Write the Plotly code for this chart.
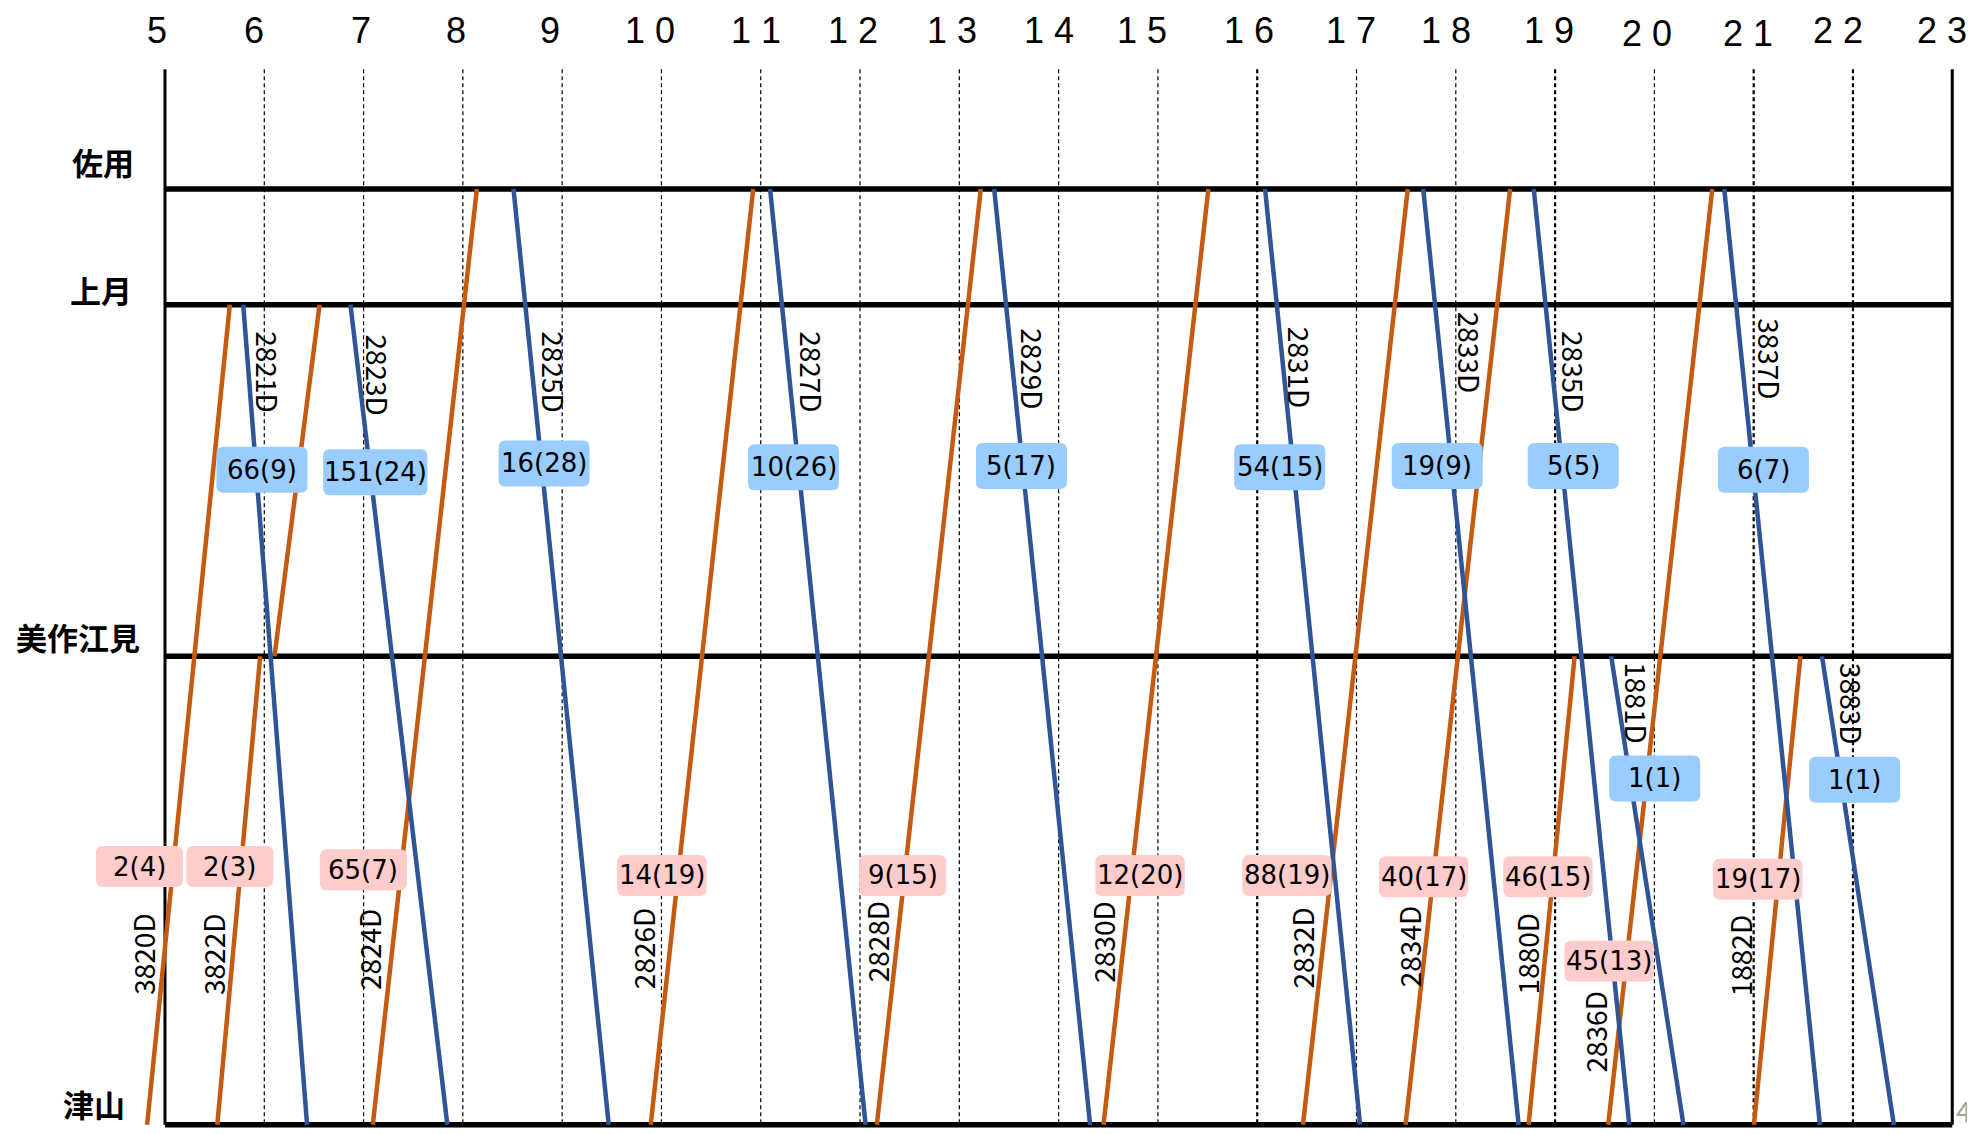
import plotly.graph_objects as go

# ---------------- data ----------------
stations = ["佐用", "上月", "美作江見", "津山"]
station_pos = [0.0, 9.2, 37.1, 74.3]          # relative distance along the line
hours = list(range(5, 24))
hour_text = ["5", "6", "7", "8", "9", "1 0", "1 1", "1 2", "1 3", "1 4", "1 5",
             "1 6", "1 7", "1 8", "1 9", "2 0", "2 1", "2 2", "2 3"]

# up trains (津山 -> 佐用), orange
up_ids = ["3820D", "3822D", "3822D", "2824D", "2826D", "2828D", "2830D",
          "2832D", "2834D", "1880D", "2836D", "1882D"]
up_from = ["津山", "津山", "美作江見", "津山", "津山", "津山", "津山",
           "津山", "津山", "津山", "津山", "津山"]
up_to = ["上月", "美作江見", "上月", "佐用", "佐用", "佐用", "佐用",
         "佐用", "佐用", "美作江見", "佐用", "美作江見"]
up_dep = [4.82, 5.527, 6.103, 7.093, 9.892, 12.169, 14.452, 16.461, 17.494, 18.733, 19.535, 21.003]
up_arr = [5.653, 5.959, 6.557, 8.141, 10.924, 13.216, 15.508, 17.516, 18.547, 19.197, 20.583, 21.471]

# down trains (佐用 -> 津山), blue
dn_ids = ["2821D", "2823D", "2825D", "2827D", "2829D", "2831D", "2833D",
          "2835D", "1881D", "3837D", "3883D"]
dn_from = ["上月", "上月", "佐用", "佐用", "佐用", "佐用", "佐用",
           "佐用", "美作江見", "佐用", "美作江見"]
dn_to = ["津山"] * 11
dn_dep = [5.788, 6.868, 8.510, 11.094, 13.351, 16.079, 17.672, 18.785, 19.565, 20.704, 21.688]
dn_arr = [6.431, 7.844, 9.469, 12.056, 14.317, 17.036, 18.633, 19.747, 20.293, 21.667, 22.412]

# passenger counts per train
up_label_ids = ["3820D", "3822D", "2824D", "2826D", "2828D", "2830D", "2832D",
                "2834D", "1880D", "2836D", "1882D"]
up_counts = ["2(4)", "2(3)", "65(7)", "14(19)", "9(15)", "12(20)", "88(19)",
             "40(17)", "46(15)", "45(13)", "19(17)"]
dn_counts = ["66(9)", "151(24)", "16(28)", "10(26)", "5(17)", "54(15)", "19(9)",
             "5(5)", "1(1)", "6(7)", "1(1)"]

# ---------------- layout helpers (label placement) ----------------
hour_label_x = [4.924, 5.901, 6.979, 7.93, 8.88, 9.885, 10.95, 11.93, 12.93, 13.9,
                14.84, 15.92, 16.94, 17.9, 18.94, 19.93, 20.94, 21.85, 22.9]
hour_label_y = [-12.6] * 15 + [-12.3, -12.3, -12.6, -12.6]
station_label_x = [4.378, 4.353, 4.125, 4.29]
station_label_y = [-2.2, 8.0, 35.5, 72.6]

up_id_x = [4.775, 5.486, 7.048, 9.815, 12.173, 14.452, 16.452, 17.529, 18.720, 19.405, 20.865]
up_id_y = [60.75, 60.8, 60.4, 60.35, 59.8, 59.8, 60.3, 60.2, 60.75, 66.95, 60.9]
dn_id_x = [6.040, 7.144, 8.920, 11.520, 13.740, 16.430, 18.142, 19.195, 19.83, 21.162, 21.99]
dn_id_y = [14.5, 14.8, 14.5, 14.5, 14.3, 14.2, 13.0, 14.5, 40.8, 13.5, 40.9]

up_box_x = [4.743, 5.653, 6.998, 10.004, 12.429, 14.820, 16.299, 17.676, 18.928, 19.543, 21.042]
up_box_y = [53.8, 53.8, 54.05, 54.5, 54.5, 54.5, 54.5, 54.6, 54.6, 61.3, 54.8]
dn_box_x = [5.977, 7.118, 8.818, 11.33, 13.626, 16.227, 17.813, 19.183, 20.003, 21.098, 22.017]
dn_box_y = [22.3, 22.5, 21.8, 22.1, 22.0, 22.1, 22.0, 22.0, 46.8, 22.3, 46.9]

ORANGE = "#C55A11"
BLUE = "#2F5597"
PINK_BG = "#FFCCCC"
BLUE_BG = "#99CCFF"
TOP = -9.5
pos = dict(zip(stations, station_pos))

fig = go.Figure()

for i in range(len(up_ids)):
    fig.add_trace(go.Scatter(x=[up_dep[i], up_arr[i]], y=[pos[up_from[i]], pos[up_to[i]]],
                             mode="lines", line=dict(color=ORANGE, width=4.5),
                             name=up_ids[i], showlegend=False, hoverinfo="skip"))
for i in range(len(dn_ids)):
    fig.add_trace(go.Scatter(x=[dn_dep[i], dn_arr[i]], y=[pos[dn_from[i]], pos[dn_to[i]]],
                             mode="lines", line=dict(color=BLUE, width=4.5),
                             name=dn_ids[i], showlegend=False, hoverinfo="skip"))

shapes = []
bold_grid = {16, 19, 21, 22}
for h in hours[1:-1]:
    shapes.append(dict(type="line", xref="x", yref="y", x0=h, x1=h, y0=TOP, y1=station_pos[-1],
                       line=dict(color="black", width=2.2 if h in bold_grid else 1.2, dash="4px,3px"),
                       layer="below"))
for h in (hours[0], hours[-1]):
    shapes.append(dict(type="line", xref="x", yref="y", x0=h, x1=h, y0=TOP, y1=station_pos[-1],
                       line=dict(color="black", width=3), layer="below"))
for p in station_pos:
    shapes.append(dict(type="line", xref="x", yref="y", x0=hours[0], x1=hours[-1], y0=p, y1=p,
                       line=dict(color="black", width=5.5), layer="below"))


def rounded(xc, yc, w, h, r, color):
    hw, hh = w / 2, h / 2
    path = (f"M {-hw + r},{-hh} L {hw - r},{-hh} Q {hw},{-hh} {hw},{-hh + r} "
            f"L {hw},{hh - r} Q {hw},{hh} {hw - r},{hh} L {-hw + r},{hh} "
            f"Q {-hw},{hh} {-hw},{hh - r} L {-hw},{-hh + r} Q {-hw},{-hh} {-hw + r},{-hh} Z")
    return dict(type="path", xref="x", yref="y", xsizemode="pixel", ysizemode="pixel",
                xanchor=xc, yanchor=yc, path=path, fillcolor=color,
                line=dict(width=0), layer="above")


annotations = []
box_font = dict(family="DejaVu Sans", size=26, color="black")
for i, t in enumerate(up_counts):
    w = max(87, 14.9 * len(t))
    shapes.append(rounded(up_box_x[i], up_box_y[i], w, 41, 7, PINK_BG))
    annotations.append(dict(x=up_box_x[i], y=up_box_y[i], text=t, showarrow=False,
                            font=box_font, xanchor="center", yanchor="middle"))
for i, t in enumerate(dn_counts):
    w = max(91, 14.9 * len(t))
    shapes.append(rounded(dn_box_x[i], dn_box_y[i], w, 46, 7, BLUE_BG))
    annotations.append(dict(x=dn_box_x[i], y=dn_box_y[i], text=t, showarrow=False,
                            font=box_font, xanchor="center", yanchor="middle"))

id_font = dict(family="Noto Sans CJK JP", size=28, color="black")
for i, t in enumerate(up_label_ids):
    annotations.append(dict(x=up_id_x[i], y=up_id_y[i], text=t, textangle=-90, showarrow=False,
                            font=id_font, xanchor="center", yanchor="middle"))
for i, t in enumerate(dn_ids):
    annotations.append(dict(x=dn_id_x[i], y=dn_id_y[i], text=t, textangle=90, showarrow=False,
                            font=id_font, xanchor="center", yanchor="middle"))

for i, t in enumerate(hour_text):
    annotations.append(dict(x=hour_label_x[i], y=hour_label_y[i], text=t, showarrow=False,
                            font=dict(family="Liberation Sans Narrow, Liberation Sans, sans-serif",
                                      size=36, color="black"),
                            xanchor="center", yanchor="middle"))
for i, s in enumerate(stations):
    annotations.append(dict(x=station_label_x[i], y=station_label_y[i], text=s, showarrow=False,
                            font=dict(family="Noto Sans CJK JP", size=31, color="black", weight="bold"),
                            xanchor="center", yanchor="middle"))
annotations.append(dict(x=23.12, y=73.1, text="4", showarrow=False,
                        font=dict(family="Noto Sans CJK JP", size=28, color="#A0A0A0"),
                        xanchor="center", yanchor="middle"))

# page body has an 8px margin: size and ranges compensate so marks land where intended
fig.update_layout(
    width=1967, height=1126,
    margin=dict(l=0, r=0, t=0, b=0),
    paper_bgcolor="white", plot_bgcolor="white",
    xaxis=dict(range=[3.419, 23.229], visible=False, fixedrange=True),
    yaxis=dict(range=[75.03, -14.36], visible=False, fixedrange=True),
    shapes=shapes, annotations=annotations,
)

fig.write_html("out.html")
